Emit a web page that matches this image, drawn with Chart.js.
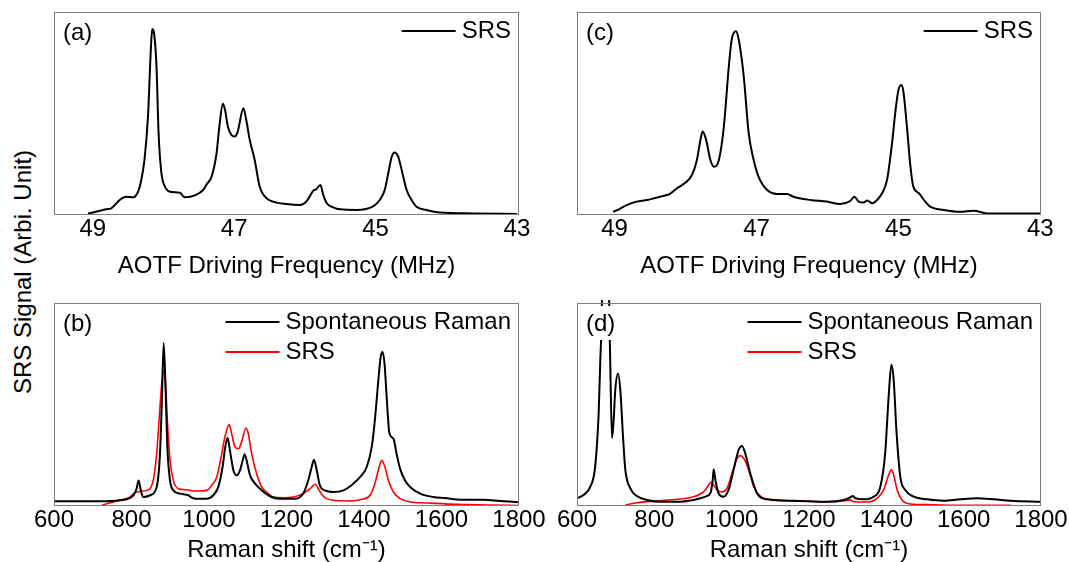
<!DOCTYPE html>
<html>
<head>
<meta charset="utf-8">
<script src="https://cdn.jsdelivr.net/npm/chart.js@4.4.1/dist/chart.umd.min.js"></script>
<style>
    html, body { margin: 0; padding: 0; background: #fff; width: 1069px; height: 562px; overflow: hidden; }
    canvas { position: absolute; }
    #ylabel {
        position: absolute; left: 23px; top: 272px;
        transform: translate(-50%, -50%) rotate(-90deg);
        font: 24px "Liberation Sans", Arial, sans-serif; color: #000; white-space: nowrap;
    }
</style>
</head>
<body>
<div id="ylabel">SRS Signal (Arbi. Unit)</div>
<canvas id="chartA" width="500" height="290" style="left:40px;top:0px"></canvas>
<canvas id="chartC" width="509" height="290" style="left:560px;top:0px"></canvas>
<canvas id="chartB" width="530" height="290" style="left:20px;top:280px"></canvas>
<canvas id="chartD" width="524" height="290" style="left:545px;top:280px"></canvas>
<script>
const FONT = '"Liberation Sans", Arial, sans-serif';

// (a) and (c): SRS signal vs AOTF driving frequency (MHz), intensity normalised to frame height
const freqTicks = [49, 47, 45, 43];

const aFreq = [49.07, 49.00, 48.81, 48.74, 48.62, 48.53, 48.43, 48.36, 48.32, 48.27, 48.22, 48.18, 48.16, 48.14,
    48.10, 48.07, 48.03, 47.98, 47.91, 47.77, 47.70, 47.54, 47.44, 47.39, 47.32, 47.25, 47.21, 47.16, 47.13,
    47.09, 47.04, 46.99, 46.95, 46.87, 46.83, 46.78, 46.71, 46.64, 46.54, 46.45, 46.26, 46.07, 45.98, 45.88,
    45.84, 45.78, 45.74, 45.69, 45.60, 45.50, 45.27, 45.03, 44.94, 44.87, 44.82, 44.77, 44.73, 44.68, 44.63,
    44.56, 44.49, 44.42, 44.28, 44.09, 43.62, 43.00];
const aSrs = [0.008, 0.012, 0.028, 0.033, 0.074, 0.090, 0.087, 0.115, 0.164, 0.271, 0.485, 0.814, 0.916, 0.905,
    0.732, 0.403, 0.206, 0.140, 0.115, 0.110, 0.087, 0.099, 0.123, 0.151, 0.189, 0.304, 0.436, 0.548, 0.518,
    0.436, 0.395, 0.387, 0.411, 0.526, 0.469, 0.370, 0.271, 0.140, 0.082, 0.066, 0.054, 0.049, 0.066, 0.120,
    0.127, 0.148, 0.099, 0.058, 0.038, 0.028, 0.025, 0.044, 0.074, 0.123, 0.206, 0.288, 0.308, 0.288, 0.222,
    0.123, 0.074, 0.041, 0.025, 0.012, 0.008, 0.005];

const cFreq = [49.02, 48.94, 48.83, 48.69, 48.54, 48.36, 48.22, 48.12, 48.00, 47.91, 47.84, 47.79, 47.76, 47.71,
    47.65, 47.60, 47.53, 47.46, 47.39, 47.35, 47.29, 47.25, 47.18, 47.11, 47.04, 46.97, 46.85, 46.71, 46.57,
    46.48, 46.24, 46.01, 45.82, 45.68, 45.62, 45.56, 45.49, 45.44, 45.37, 45.30, 45.23, 45.16, 45.09, 45.04,
    45.00, 44.96, 44.93, 44.88, 44.83, 44.79, 44.71, 44.64, 44.55, 44.36, 44.13, 43.94, 43.75, 43.00];
const cSrs = [0.016, 0.028, 0.049, 0.066, 0.074, 0.090, 0.104, 0.132, 0.160, 0.197, 0.271, 0.370, 0.411, 0.370,
    0.271, 0.238, 0.271, 0.436, 0.732, 0.863, 0.905, 0.863, 0.683, 0.403, 0.271, 0.188, 0.123, 0.104, 0.104,
    0.090, 0.074, 0.066, 0.054, 0.069, 0.090, 0.066, 0.061, 0.071, 0.058, 0.074, 0.107, 0.173, 0.352, 0.516,
    0.615, 0.641, 0.609, 0.436, 0.238, 0.140, 0.107, 0.074, 0.041, 0.025, 0.016, 0.021, 0.008, 0.008];

// (b) and (d): spontaneous Raman vs SRS, Raman shift in cm-1
const ramanTicks = [600, 800, 1000, 1200, 1400, 1600, 1800];

const bRamanShift = [600, 719, 770, 805, 813, 818.5, 824, 830, 848, 865, 873.5, 878.7, 883, 887.3, 892.5, 899.4,
    908, 925, 947, 953, 964, 994, 1011, 1024, 1035, 1042, 1048, 1054, 1063, 1071, 1080, 1087, 1092, 1097, 1106,
    1119, 1136, 1157, 1183, 1218, 1243, 1256, 1265, 1271, 1278, 1286, 1299, 1321, 1347, 1368, 1377, 1390, 1407,
    1420, 1428, 1437, 1443, 1448, 1453, 1458.5, 1465, 1471, 1477, 1484, 1493, 1506, 1519, 1545, 1579, 1609,
    1648, 1708, 1751, 1800];
const bRamanInt = [0.023, 0.023, 0.028, 0.053, 0.085, 0.126, 0.077, 0.044, 0.053, 0.094, 0.258, 0.537, 0.803,
    0.619, 0.291, 0.126, 0.077, 0.061, 0.053, 0.044, 0.036, 0.036, 0.053, 0.094, 0.192, 0.291, 0.335, 0.274,
    0.176, 0.151, 0.176, 0.225, 0.255, 0.225, 0.151, 0.110, 0.077, 0.048, 0.036, 0.036, 0.061, 0.126, 0.192,
    0.228, 0.176, 0.102, 0.077, 0.069, 0.077, 0.102, 0.118, 0.143, 0.192, 0.291, 0.422, 0.619, 0.734, 0.759,
    0.701, 0.537, 0.365, 0.340, 0.327, 0.258, 0.184, 0.126, 0.094, 0.061, 0.044, 0.039, 0.031, 0.031, 0.025,
    0.018];
const bSrsShift = [723, 736, 770, 796, 809, 822, 839, 856, 865, 873.5, 878.7, 882.2, 887.3, 892.5, 899.4, 908,
    921, 942, 951, 968, 994, 1007, 1020, 1033, 1041, 1052, 1058.5, 1067, 1076, 1084, 1095.5, 1101.5, 1110, 1123,
    1136, 1153, 1166, 1192, 1218, 1243, 1261, 1274, 1282, 1295, 1321, 1355, 1390, 1415.5, 1428, 1437, 1445.6,
    1454, 1463, 1476, 1493, 1519, 1562, 1639, 1725, 1800];
const bSrsInt = [0.003, 0.011, 0.028, 0.044, 0.066, 0.072, 0.077, 0.126, 0.258, 0.488, 0.619, 0.665, 0.619,
    0.422, 0.225, 0.126, 0.085, 0.080, 0.077, 0.074, 0.077, 0.102, 0.143, 0.258, 0.340, 0.401, 0.356, 0.291,
    0.282, 0.315, 0.384, 0.356, 0.258, 0.159, 0.094, 0.061, 0.044, 0.041, 0.044, 0.061, 0.085, 0.107, 0.085,
    0.048, 0.028, 0.025, 0.031, 0.053, 0.110, 0.176, 0.225, 0.192, 0.126, 0.069, 0.036, 0.020, 0.015, 0.008,
    0.005, 0.002];

const dRamanShift = [600, 617, 634.5, 647, 656, 660, 664, 673, 683.6, 686, 690.5, 694.8, 699, 706, 712, 719, 725,
    738, 755, 781, 815.5, 858.6, 901.7, 919, 936, 945, 951, 953.4, 958, 966, 979, 992, 1005, 1018, 1026.7, 1035,
    1048, 1065.5, 1091, 1160, 1247, 1290, 1307, 1313, 1320, 1341, 1367, 1384.5, 1397, 1406, 1413, 1419, 1426,
    1436, 1449, 1471, 1505, 1548, 1591, 1634.5, 1678, 1721, 1800];
const dRamanInt = [0.038, 0.054, 0.095, 0.194, 0.457, 0.704, 0.951, 2.5, 0.951, 0.704, 0.334, 0.424, 0.572,
    0.651, 0.572, 0.342, 0.178, 0.087, 0.049, 0.030, 0.021, 0.021, 0.030, 0.038, 0.049, 0.063, 0.128, 0.181,
    0.128, 0.063, 0.046, 0.079, 0.178, 0.276, 0.296, 0.260, 0.161, 0.063, 0.033, 0.026, 0.021, 0.030, 0.043,
    0.049, 0.038, 0.033, 0.046, 0.095, 0.260, 0.539, 0.696, 0.622, 0.375, 0.145, 0.079, 0.046, 0.033, 0.026,
    0.033, 0.038, 0.033, 0.026, 0.021];
const dSrsShift = [725, 755, 781, 815.5, 858.6, 901.7, 919, 932, 940.5, 946.6, 953.4, 962, 975, 988, 1001, 1014,
    1022, 1031, 1044, 1057, 1074, 1109, 1160, 1247, 1290, 1307, 1315.5, 1350, 1376, 1393, 1406, 1413, 1419, 1428,
    1440.5, 1462, 1505, 1591, 1723];
const dSrsInt = [0.005, 0.016, 0.021, 0.026, 0.033, 0.046, 0.059, 0.079, 0.104, 0.117, 0.104, 0.079, 0.069,
    0.087, 0.161, 0.235, 0.248, 0.235, 0.178, 0.095, 0.049, 0.030, 0.025, 0.021, 0.025, 0.030, 0.021, 0.020,
    0.038, 0.079, 0.153, 0.178, 0.153, 0.079, 0.030, 0.010, 0.007, 0.003, 0.003];

/**
 * Zip x and y arrays into point objects
 */
function toPoints(xs, ys) {
    return xs.map(function(x, i) { return { x: x, y: ys[i] }; });
}

/**
 * Draws the grey frame, the panel letter (on a white patch) and a line legend inside the plot area
 */
const panelDecor = {
    id: 'panelDecor',
    afterDatasetsDraw(chart, args, opts) {
        const ctx = chart.ctx;
        const area = chart.chartArea;
        ctx.save();
        ctx.font = '24px ' + FONT;
        // the letter sits on a white patch that hides curves running under it
        ctx.fillStyle = '#fff';
        ctx.fillRect(area.left + 4, area.top + 3, ctx.measureText(opts.letter).width + 10, 34);
        ctx.fillStyle = '#000';
        ctx.textBaseline = 'middle';
        ctx.textAlign = 'left';
        ctx.fillText(opts.letter, area.left + 9, area.top + 21);

        const sets = chart.data.datasets;
        const maxW = Math.max.apply(null, sets.map(d => ctx.measureText(d.label).width));
        const textX = area.right - 8 - maxW;
        sets.forEach((d, i) => {
            const y = area.top + 19 + i * 30;
            ctx.strokeStyle = d.borderColor;
            ctx.lineWidth = 2;
            ctx.beginPath();
            ctx.moveTo(textX - 60, y);
            ctx.lineTo(textX - 6, y);
            ctx.stroke();
            ctx.fillText(d.label, textX, y);
        });

        ctx.strokeStyle = '#7f7f7f';
        ctx.lineWidth = 1;
        ctx.strokeRect(area.left + 0.5, area.top + 0.5, area.width - 1, area.height - 1);
        ctx.restore();
    }
};

/**
 * Build one panel
 */
function makePanel(id, cfg) {
    return new Chart(document.getElementById(id), {
        type: 'line',
        data: { datasets: cfg.datasets },
        options: {
            responsive: false,
            animation: false,
            devicePixelRatio: 1,
            layout: { padding: cfg.padding },
            elements: { point: { radius: 0 }, line: { cubicInterpolationMode: 'monotone' } },
            plugins: {
                legend: { display: false },
                tooltip: { enabled: false },
                panelDecor: { letter: cfg.letter }
            },
            scales: {
                x: {
                    type: 'linear',
                    min: cfg.min,
                    max: cfg.max,
                    reverse: cfg.reverse,
                    grid: { display: false, drawTicks: false },
                    border: { display: false },
                    afterBuildTicks: s => { s.ticks = cfg.ticks.map(v => ({ value: v })); },
                    afterFit: s => { s.height = cfg.axisHeight; },
                    ticks: {
                        font: { family: FONT, size: 24 },
                        color: '#000',
                        padding: 0,
                        maxRotation: 0,
                        autoSkip: false,
                        callback: v => String(v)
                    },
                    title: {
                        display: true,
                        text: cfg.title,
                        color: '#000',
                        font: { family: FONT, size: 24 },
                        padding: { top: 0, bottom: cfg.titlePad }
                    }
                },
                y: { display: false, min: 0, max: 1 }
            }
        },
        plugins: [panelDecor]
    });
}

const freqTitle = 'AOTF Driving Frequency (MHz)';
const ramanTitle = 'Raman shift (cm\u207B\u00B9)';

makePanel('chartA', {
    letter: '(a)', title: freqTitle, ticks: freqTicks, min: 42.97, max: 49.55, reverse: true,
    padding: { left: 14, top: 12, right: 21, bottom: 0 }, axisHeight: 75, titlePad: 9,
    datasets: [{ label: 'SRS', data: toPoints(aFreq, aSrs), borderColor: '#000', borderWidth: 2 }]
});

makePanel('chartC', {
    letter: '(c)', title: freqTitle, ticks: freqTicks, min: 42.99, max: 49.53, reverse: true,
    padding: { left: 17, top: 12, right: 28, bottom: 0 }, axisHeight: 75, titlePad: 9,
    datasets: [{ label: 'SRS', data: toPoints(cFreq, cSrs), borderColor: '#000', borderWidth: 2 }]
});

makePanel('chartB', {
    letter: '(b)', title: ramanTitle, ticks: ramanTicks, min: 600, max: 1800, reverse: false,
    padding: { left: 34, top: 23, right: 31, bottom: 0 }, axisHeight: 64, titlePad: 5,
    datasets: [
        { label: 'Spontaneous Raman', data: toPoints(bRamanShift, bRamanInt), borderColor: '#000', borderWidth: 2 },
        { label: 'SRS', data: toPoints(bSrsShift, bSrsInt), borderColor: '#ff0000', borderWidth: 1.6 }
    ]
});

makePanel('chartD', {
    letter: '(d)', title: ramanTitle, ticks: ramanTicks, min: 600, max: 1800, reverse: false,
    padding: { left: 32, top: 23, right: 28, bottom: 0 }, axisHeight: 64, titlePad: 5,
    datasets: [
        { label: 'Spontaneous Raman', data: toPoints(dRamanShift, dRamanInt), borderColor: '#000', borderWidth: 2,
          clip: { left: 0, top: 3, right: 0, bottom: 0 } },
        { label: 'SRS', data: toPoints(dSrsShift, dSrsInt), borderColor: '#ff0000', borderWidth: 1.6 }
    ]
});
</script>
</body>
</html>
